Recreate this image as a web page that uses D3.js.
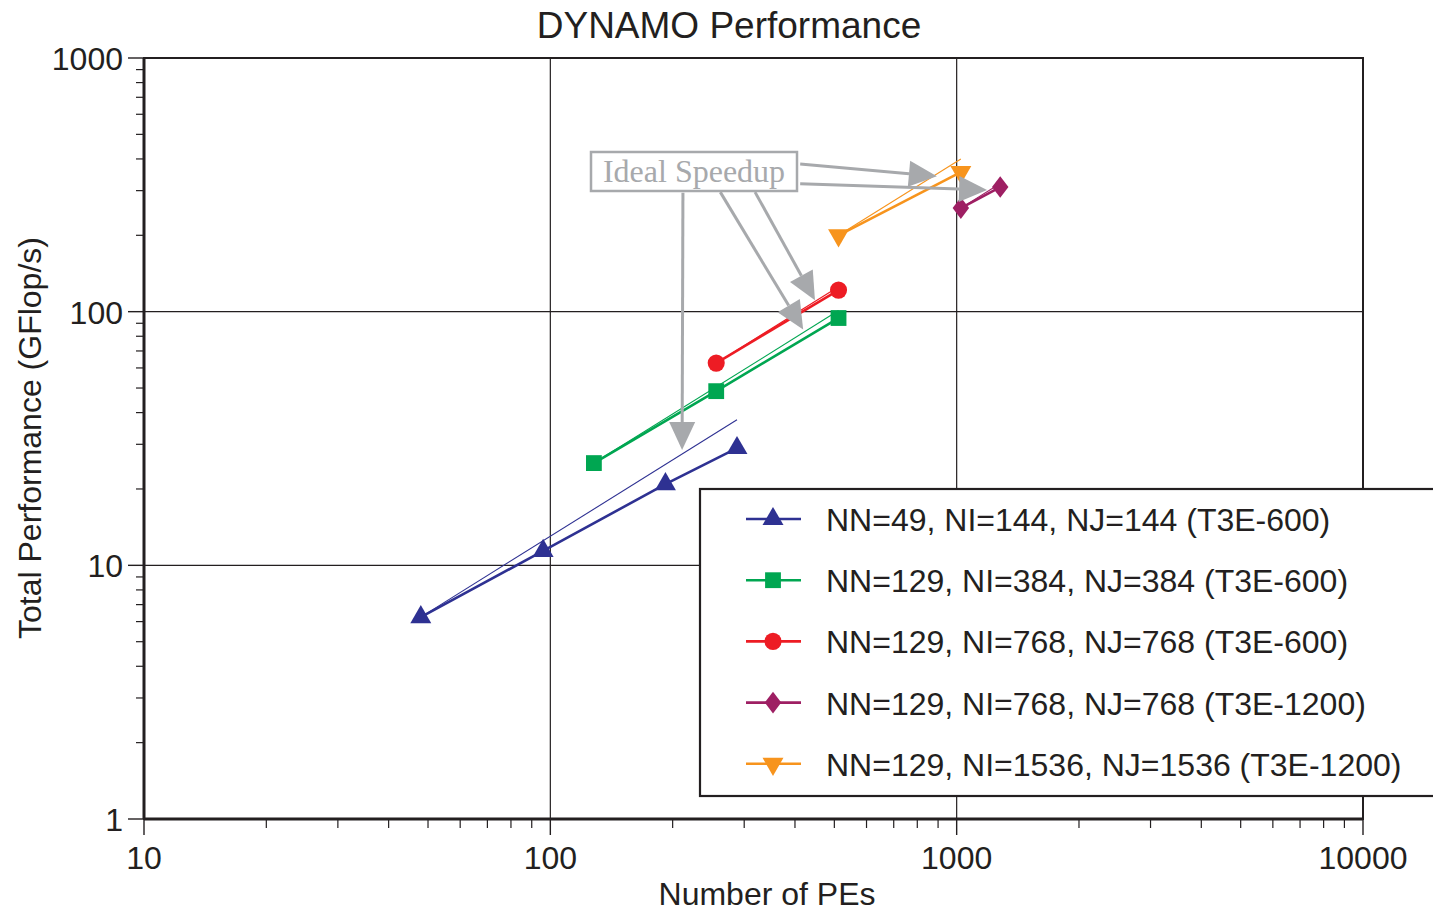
<!DOCTYPE html>
<html>
<head>
<meta charset="utf-8">
<script src="https://cdn.jsdelivr.net/npm/d3@7"></script>
<style>
  body { margin: 0; background: #fff; }
  svg text { font-family: "Liberation Sans", Arial, sans-serif; fill: #231f20; }
</style>
</head>
<body>
<svg id="chart" width="1433" height="911"></svg>
<script>
// measured series (PEs, GFlop/s)
var seriesNames = [
  "NN=49, NI=144, NJ=144 (T3E-600)",
  "NN=129, NI=384, NJ=384 (T3E-600)",
  "NN=129, NI=768, NJ=768 (T3E-600)",
  "NN=129, NI=768, NJ=768 (T3E-1200)",
  "NN=129, NI=1536, NJ=1536 (T3E-1200)"
];
var seriesColors = ["#2e3192", "#00a651", "#ed1c24", "#9e1f63", "#f7941d"];
var seriesSymbols = ["triangle", "square", "circle", "diamond", "triangleDown"];

var pes49 = [48, 96, 192, 288];
var perf49 = [6.25, 11.4, 20.9, 29];
var pes384 = [128, 256, 512];
var perf384 = [25.3, 48.6, 94.4];
var pes768 = [256, 512];
var perf768 = [62.7, 121.6];
var pes768b = [1024, 1280];
var perf768b = [256, 310];
var pes1536 = [512, 1024];
var perf1536 = [200, 355];

// ideal speedup lines: [start PEs, end PEs], [start perf, end perf]
var idealPes = [[48, 288], [128, 512], [256, 512], [1024, 1280], [512, 1024]];
var idealPerf = [[6.25, 37.5], [25.3, 101], [62.7, 125.4], [256, 320], [200, 400]];

var xTicks = [10, 100, 1000, 10000];
var yTicks = [1, 10, 100, 1000];

// annotation arrows "Ideal Speedup": [fromPes, fromPerf] -> [toPes, toPerf]
var arrowFrom = [[412, 382], [412, 319], [262, 296], [319, 296], [212, 294]];
var arrowTo = [[894, 342], [1188, 302], [419, 85], [448, 111], [211, 28.5]];

var xData = [pes49, pes384, pes768, pes768b, pes1536];
var yData = [perf49, perf384, perf768, perf768b, perf1536];

var svg = d3.select("#chart");
var plotLeft = 144, plotRight = 1363, plotTop = 58, plotBottom = 819;

var x = d3.scaleLog().domain([10, 10000]).range([plotLeft, plotRight]);
var y = d3.scaleLog().domain([1, 1000]).range([plotBottom, plotTop]);

var gray = "#a7a9ac";
var ink = "#231f20";

// title
svg.append("text")
  .attr("x", 729).attr("y", 38)
  .attr("text-anchor", "middle")
  .style("font-size", "37px")
  .text("DYNAMO Performance");

// grid lines at decades
var grid = svg.append("g");
grid.selectAll("line.gx").data(xTicks.slice(1, 3)).enter().append("line")
  .attr("x1", function(d) { return x(d); }).attr("x2", function(d) { return x(d); })
  .attr("y1", plotTop).attr("y2", plotBottom)
  .attr("stroke", ink).attr("stroke-width", 1.2);
grid.selectAll("line.gy").data(yTicks.slice(1, 3)).enter().append("line")
  .attr("y1", function(d) { return y(d); }).attr("y2", function(d) { return y(d); })
  .attr("x1", plotLeft).attr("x2", plotRight)
  .attr("stroke", ink).attr("stroke-width", 1.2);

// minor ticks
var minorX = [], minorY = [];
[10, 100, 1000].forEach(function(dec) {
  for (var k = 2; k <= 9; k++) { minorX.push(dec * k); }
});
[1, 10, 100].forEach(function(dec) {
  for (var k = 2; k <= 9; k++) { minorY.push(dec * k); }
});
var axisG = svg.append("g");
axisG.selectAll("line.mx").data(minorX).enter().append("line")
  .attr("x1", function(d) { return x(d); }).attr("x2", function(d) { return x(d); })
  .attr("y1", plotBottom).attr("y2", plotBottom + 9)
  .attr("stroke", ink).attr("stroke-width", 1.2);
axisG.selectAll("line.my").data(minorY).enter().append("line")
  .attr("y1", function(d) { return y(d); }).attr("y2", function(d) { return y(d); })
  .attr("x1", plotLeft - 8).attr("x2", plotLeft)
  .attr("stroke", ink).attr("stroke-width", 1.2);
axisG.selectAll("line.Mx").data(xTicks).enter().append("line")
  .attr("x1", function(d) { return x(d); }).attr("x2", function(d) { return x(d); })
  .attr("y1", plotBottom).attr("y2", plotBottom + 16)
  .attr("stroke", ink).attr("stroke-width", 1.4);
axisG.selectAll("line.My").data(yTicks).enter().append("line")
  .attr("y1", function(d) { return y(d); }).attr("y2", function(d) { return y(d); })
  .attr("x1", plotLeft - 16).attr("x2", plotLeft)
  .attr("stroke", ink).attr("stroke-width", 1.4);

// tick labels
axisG.selectAll("text.tx").data(xTicks).enter().append("text")
  .attr("x", function(d) { return x(d); }).attr("y", 869)
  .attr("text-anchor", "middle")
  .style("font-size", "32px")
  .text(function(d) { return d; });
axisG.selectAll("text.ty").data(yTicks).enter().append("text")
  .attr("x", 123).attr("y", function(d) { return y(d) + 12; })
  .attr("text-anchor", "end")
  .style("font-size", "32px")
  .text(function(d) { return d; });

// axis titles
svg.append("text")
  .attr("x", 767).attr("y", 905)
  .attr("text-anchor", "middle")
  .style("font-size", "32px")
  .text("Number of PEs");
svg.append("text")
  .attr("transform", "translate(41,438) rotate(-90)")
  .attr("text-anchor", "middle")
  .style("font-size", "32px")
  .text("Total Performance (GFlop/s)");

// frame
svg.append("rect")
  .attr("x", plotLeft).attr("y", plotTop)
  .attr("width", plotRight - plotLeft).attr("height", plotBottom - plotTop)
  .attr("fill", "none").attr("stroke", ink).attr("stroke-width", 2);
svg.append("line").attr("x1", plotLeft).attr("x2", plotLeft).attr("y1", plotTop).attr("y2", plotBottom)
  .attr("stroke", ink).attr("stroke-width", 3);
svg.append("line").attr("x1", plotLeft).attr("x2", plotRight).attr("y1", plotBottom).attr("y2", plotBottom)
  .attr("stroke", ink).attr("stroke-width", 3);

// symbols
var symbolTypes = {
  triangle: d3.symbolTriangle,
  square: d3.symbolSquare,
  circle: d3.symbolCircle,
  diamond: d3.symbolDiamond,
  triangleDown: d3.symbolTriangle
};
var symbolSizes = { triangle: 190, square: 250, circle: 230, diamond: 150, triangleDown: 190 };
function symbolPath(name) {
  return d3.symbol().type(symbolTypes[name]).size(symbolSizes[name])();
}
function symbolTransform(name, px, py) {
  if (name === "triangleDown") return "translate(" + px + "," + py + ") rotate(180)";
  if (name === "diamond") return "translate(" + px + "," + py + ") scale(1.25,0.95)";
  return "translate(" + px + "," + py + ")";
}

// ideal speedup lines (thin)
var plot = svg.append("g");
idealPes.forEach(function(p, i) {
  plot.append("line")
    .attr("x1", x(p[0])).attr("y1", y(idealPerf[i][0]))
    .attr("x2", x(p[1])).attr("y2", y(idealPerf[i][1]))
    .attr("stroke", seriesColors[i]).attr("stroke-width", 1.1);
});

// measured lines + markers
var line = d3.line().x(function(d) { return x(d[0]); }).y(function(d) { return y(d[1]); });
xData.forEach(function(xs, i) {
  var pts = xs.map(function(v, j) { return [v, yData[i][j]]; });
  plot.append("path")
    .attr("d", line(pts))
    .attr("fill", "none")
    .attr("stroke", seriesColors[i]).attr("stroke-width", 2.6);
  plot.selectAll("path.m" + i).data(pts).enter().append("path")
    .attr("d", symbolPath(seriesSymbols[i]))
    .attr("transform", function(d) { return symbolTransform(seriesSymbols[i], x(d[0]), y(d[1])); })
    .attr("fill", seriesColors[i]);
});

// annotation
var ann = svg.append("g");
arrowFrom.forEach(function(f, i) {
  var x1 = x(f[0]), y1 = y(f[1]), x2 = x(arrowTo[i][0]), y2 = y(arrowTo[i][1]);
  var ang = Math.atan2(y2 - y1, x2 - x1);
  var len = 28, half = 13;
  var bx = x2 - len * Math.cos(ang), by = y2 - len * Math.sin(ang);
  ann.append("line")
    .attr("x1", x1).attr("y1", y1).attr("x2", bx).attr("y2", by)
    .attr("stroke", gray).attr("stroke-width", 3);
  var pts = [
    [x2, y2],
    [bx + half * Math.sin(ang), by - half * Math.cos(ang)],
    [bx - half * Math.sin(ang), by + half * Math.cos(ang)]
  ];
  ann.append("path")
    .attr("d", "M" + pts.map(function(p) { return p.join(","); }).join("L") + "Z")
    .attr("fill", gray);
});
ann.append("rect")
  .attr("x", 591).attr("y", 152).attr("width", 206).attr("height", 39)
  .attr("fill", "#fff").attr("stroke", gray).attr("stroke-width", 2.5);
ann.append("text")
  .attr("x", 694).attr("y", 182)
  .attr("text-anchor", "middle")
  .style("font-family", "'Liberation Serif', 'Times New Roman', serif")
  .style("font-size", "32px")
  .style("fill", gray)
  .text("Ideal Speedup");

// legend
var legend = svg.append("g");
legend.append("rect")
  .attr("x", 700).attr("y", 489).attr("width", 740).attr("height", 307)
  .attr("fill", "#fff").attr("stroke", ink).attr("stroke-width", 2.2);
var rows = legend.selectAll("g.row").data(seriesNames).enter().append("g")
  .attr("transform", function(d, i) { return "translate(0," + (519 + i * 61.2) + ")"; });
rows.append("line")
  .attr("x1", 746).attr("x2", 801).attr("y1", 0).attr("y2", 0)
  .attr("stroke", function(d, i) { return seriesColors[i]; })
  .attr("stroke-width", 2.6);
rows.append("path")
  .attr("d", function(d, i) { return symbolPath(seriesSymbols[i]); })
  .attr("transform", function(d, i) { return symbolTransform(seriesSymbols[i], 773, 0); })
  .attr("fill", function(d, i) { return seriesColors[i]; });
rows.append("text")
  .attr("x", 826).attr("y", 12)
  .style("font-size", "32px")
  .text(function(d) { return d; });
</script>
</body>
</html>
